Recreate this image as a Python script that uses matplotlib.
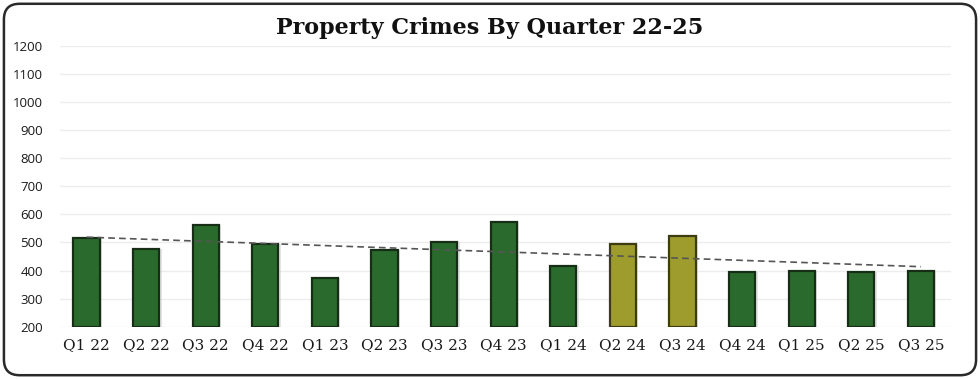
import numpy as np
import matplotlib.pyplot as plt
from matplotlib.patches import FancyBboxPatch

# ----------------------------------------
# Data
# ----------------------------------------
quarters = ["Q1 22", "Q2 22", "Q3 22", "Q4 22", "Q1 23", "Q2 23", "Q3 23", "Q4 23",
            "Q1 24", "Q2 24", "Q3 24", "Q4 24", "Q1 25", "Q2 25", "Q3 25"]
crimes = [517, 477, 561, 495, 372, 472, 501, 574, 416, 495, 524, 396, 400, 396, 398]
highlight = ["Q2 24", "Q3 24"]  # olive bars
y_ticks = list(range(200, 1201, 100))

GREEN = "#2b6a2d"
GREEN_EDGE = "#162e16"
OLIVE = "#9e9c2c"
OLIVE_EDGE = "#3e3c12"

fig = plt.figure(figsize=(9.8, 3.79), dpi=100)
ax = fig.add_axes([0.061, 0.138, 0.909, 0.741])

x = np.arange(len(quarters))
colors = [OLIVE if q in highlight else GREEN for q in quarters]
edges = [OLIVE_EDGE if q in highlight else GREEN_EDGE for q in quarters]

# soft drop shadow behind bars
ax.bar(x + 0.04, np.array(crimes) - 200, bottom=200, width=0.44,
       color="#c4c4c4", alpha=0.45, zorder=2)
ax.bar(x, np.array(crimes) - 200, bottom=200, width=0.44,
       color=colors, edgecolor=edges, linewidth=1.6, zorder=3)

# linear trendline
slope, intercept = np.polyfit(x, crimes, 1)
ax.plot(x, slope * x + intercept, linestyle=(0, (4, 2.5)), color="#555555",
        linewidth=1.2, zorder=4)

ax.set_xlim(-0.45, len(quarters) - 0.5)
ax.set_ylim(200, 1200)
ax.set_yticks(y_ticks)
ax.set_yticklabels([str(v) for v in y_ticks], fontsize=9.5, family="Open Sans", color="#1a1a1a")
ax.set_xticks(x)
ax.set_xticklabels(quarters, fontsize=11, family="DejaVu Serif", color="#1a1a1a")
ax.tick_params(length=0, axis="y", pad=12)
ax.tick_params(length=0, axis="x", pad=8)
ax.grid(axis="y", color="#ededed", linewidth=1.0, zorder=0)
for s in ax.spines.values():
    s.set_visible(False)

fig.text(0.5, 0.925, "Property Crimes By Quarter 22-25", ha="center", va="center",
         fontsize=16, fontweight="bold", family="DejaVu Serif", color="#111111")

# rounded frame round the whole chart
frame = FancyBboxPatch((0.004, 0.01), 0.992, 0.98, boxstyle="round,pad=0,rounding_size=0.016",
                       transform=fig.transFigure, facecolor="none", edgecolor="#2a2a2a",
                       linewidth=1.8, mutation_aspect=980 / 379)
fig.patches.append(frame)

plt.savefig("out.png", dpi=100)
